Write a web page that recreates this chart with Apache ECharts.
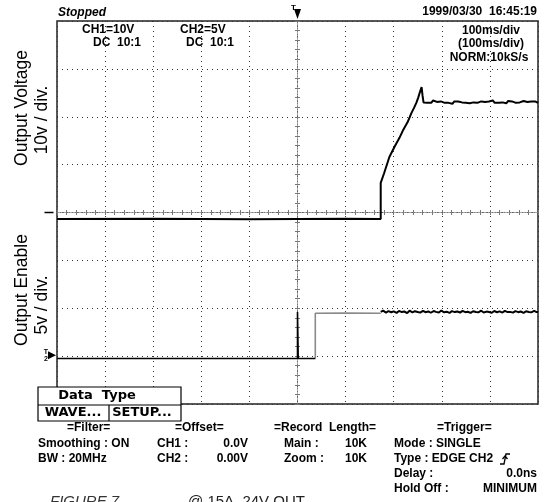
<!DOCTYPE html>
<html><head><meta charset="utf-8">
<script src="https://cdn.jsdelivr.net/npm/echarts@6/dist/echarts.min.js"></script>
<style>html,body{margin:0;padding:0;background:#fff}#c{width:544px;height:502px}</style>
</head><body><div id="c"></div>
<script>
// Time axis: ms relative to trigger (100 ms/div, 10 div)
const timeRange = [-500, 500];
// CH1 output voltage (V), 10 V/div
const ch1Data = [[-500,-1.35],[-300,-1.3],[-100,-1.4],[100,-1.3],[173,-1.35],
 [173,6.2],[180,8.2],[191,11.6],[202,13.8],[212,15.6],[220,17.3],[229,18.9],[237,20.8],[242,21.8],[247,22.9],[251,24.0],[254,25.0],[258,26.2],[260,24.4],[262,23.0],
 [266,23.2],[270,22.9],[274,23.1],[278,22.9],[282,23.4],[286,23.0],[290,23.1],[294,22.8],[298,23.2],[302,23.0],[306,22.9],[310,23.3],[314,22.9],[318,23.1],[322,22.7],[326,23.2],[330,23.0],[334,23.2],[338,22.9],[342,23.0],[346,23.4],[350,22.9],[354,23.1],[358,22.8],[362,23.2],[366,23.0],[370,23.3],[374,22.9],[378,23.0],[382,23.2],[386,22.9],[390,23.1],[394,22.8],[398,23.2],[402,23.0],[406,23.4],[410,22.9],[414,23.0],[418,22.9],[422,23.2],[426,23.0],[430,23.1],[434,22.8],[438,23.3],[442,22.9],[446,23.2],[450,23.0],[454,22.9],[458,23.2],[462,23.0],[466,22.9],[470,23.3],[474,22.9],[478,23.1],[482,23.0],[486,23.2],[490,22.9],[494,23.2],[498,23.0],[500,22.9]];
// CH2 output enable (V), 5 V/div
const ch2Low = [[-500,-0.25],[0,-0.25],[0,4.6],[1.5,4.6],[1.5,-0.25],[37,-0.25]];
const ch2Gray = [[37,-0.25],[37,4.47],[100,4.5],[173,4.47]];
const ch2Times = [173,178,184,189,195,200,206,211,217,222,228,233,239,244,250,255,261,266,272,277,283,288,294,299,305,310,316,321,327,332,338,343,349,354,360,365,371,376,382,387,393,398,404,409,415,420,426,431,437,442,448,453,459,464,470,475,481,486,492,497,500];
const ch2Values = [4.62,4.75,4.55,4.70,4.58,4.68,4.52,4.72,4.60,4.66,4.50,4.74,4.57,4.69,4.61,4.54,4.73,4.59,4.67,4.53,4.71,4.62,4.56,4.76,4.58,4.64,4.51,4.70,4.60,4.66,4.55,4.72,4.59,4.63,4.52,4.69,4.61,4.57,4.74,4.56,4.65,4.60,4.53,4.71,4.58,4.67,4.55,4.73,4.60,4.62,4.54,4.70,4.59,4.66,4.52,4.68,4.61,4.57,4.72,4.60,4.62];
const ch1Range = [-40, 40];
const ch2Range = [-5, 35];

const B = 'bold 12px "Liberation Sans", Arial, sans-serif';
const ch2Noisy = ch2Times.map((t,i)=>[t, ch2Values[i]]);

function txt(text, x, y, opt) {
  opt = opt || {};
  return {type:'text', x:x, y:y, rotation: opt.rot || 0, z:100,
    style:{text:text, font: opt.font || B, fill: opt.fill || '#000',
      align: opt.align || 'left', verticalAlign: opt.va || 'middle',
      textAlign: opt.align || 'left', textVerticalAlign: opt.va || 'middle'}};
}

const chart = echarts.init(document.getElementById('c'), null, {renderer:'canvas'});
const dotted = {color:'#333', width:1, type:[1,4]};
const centerLine = {color:'#777', width:1, type:[1,2]};
function tickAxisX(inside) {
  return {type:'value', min:timeRange[0], max:timeRange[1], interval:100, position:'bottom',
    axisLine:{show:true, onZero:true, onZeroAxisIndex:0, lineStyle:centerLine},
    axisTick:{show:true, inside:inside, length:2.5, lineStyle:{color:'#777'}},
    minorTick:{show:true, splitNumber:5, length:2.5, lineStyle:{color:'#777'}},
    axisLabel:{show:false}, splitLine:{show:false}};
}
function tickAxisY(inside) {
  return {type:'value', min:ch1Range[0], max:ch1Range[1], interval:10, position:'left',
    axisLine:{show:true, onZero:true, onZeroAxisIndex:0, lineStyle:centerLine},
    axisTick:{show:true, inside:inside, length:2.5, lineStyle:{color:'#777'}},
    minorTick:{show:true, splitNumber:5, length:2.5, lineStyle:{color:'#777'}},
    axisLabel:{show:false}, splitLine:{show:false}};
}

const option = {
  animation:false,
  backgroundColor:'#fff',
  grid:{left:57, right:6, top:21, bottom:98, show:true, borderColor:'#222', borderWidth:1.5, backgroundColor:'transparent'},
  xAxis:[
    {type:'value', min:timeRange[0], max:timeRange[1], interval:100, position:'bottom',
     axisLine:{show:false}, axisTick:{show:false}, axisLabel:{show:false},
     splitLine:{show:true, lineStyle:dotted}},
    tickAxisX(true), tickAxisX(false)
  ],
  yAxis:[
    {type:'value', min:ch1Range[0], max:ch1Range[1], interval:10, position:'left',
     axisLine:{show:false}, axisTick:{show:false}, axisLabel:{show:false},
     splitLine:{show:true, lineStyle:dotted}},
    {type:'value', min:ch2Range[0], max:ch2Range[1], interval:5, position:'left',
     axisLine:{show:false}, axisTick:{show:false}, axisLabel:{show:false}, splitLine:{show:false}},
    tickAxisY(true), tickAxisY(false)
  ],
  series:[
    {type:'line', name:'CH1', xAxisIndex:0, yAxisIndex:0, data:ch1Data, showSymbol:false, symbol:'none',
     lineStyle:{color:'#000', width:2}, z:10,
     markPoint:{silent:true, data:[
       {coord:[0, ch1Range[1]], symbol:'triangle', symbolRotate:180, symbolSize:[7,10], symbolOffset:[0,-7],
        itemStyle:{color:'#000'}, label:{show:true, formatter:'T', position:'left', distance:-2, offset:[0,-6], fontSize:8, fontWeight:'bold', color:'#000'}},
       {coord:[timeRange[0], 0], symbol:'rect', symbolSize:[9,1.5], symbolOffset:[-8,0], itemStyle:{color:'#000'}, label:{show:false}}
     ]}},
    {type:'line', name:'CH2a', xAxisIndex:0, yAxisIndex:1, data:ch2Low, showSymbol:false, symbol:'none',
     lineStyle:{color:'#000', width:1.6}, z:10,
     markPoint:{silent:true, data:[
       {coord:[timeRange[0], 0], symbol:'triangle', symbolRotate:-90, symbolSize:[8,8], symbolOffset:[-5,-1],
        itemStyle:{color:'#000'}, label:{show:true, formatter:'T\n2', position:'left', distance:0, offset:[0,0], fontSize:7, lineHeight:7, fontWeight:'bold', color:'#000'}}
     ]}},
    {type:'line', name:'CH2b', xAxisIndex:0, yAxisIndex:1, data:ch2Gray, showSymbol:false, symbol:'none',
     lineStyle:{color:'#8a8a8a', width:1.6}, z:9},
    {type:'line', name:'CH2c', xAxisIndex:0, yAxisIndex:1, data:ch2Noisy, showSymbol:false, symbol:'none',
     lineStyle:{color:'#000', width:2}, z:10}
  ],
  graphic:[
    txt('Stopped', 58, 13, {font:'italic bold 12px "Liberation Sans", Arial, sans-serif'}),
    txt('1999/03/30  16:45:19', 537, 12, {align:'right'}),
    txt('CH1=10V', 82, 30), txt('DC  10:1', 93, 43),
    txt('CH2=5V', 180, 30), txt('DC  10:1', 186, 43),
    txt('100ms/div', 491, 31, {align:'center'}),
    txt('(100ms/div)', 491, 44, {align:'center'}),
    txt('NORM:10kS/s', 489, 58, {align:'center'}),
    txt('Output Voltage', 22, 108, {align:'center', rot:Math.PI/2, font:'17.5px "Liberation Sans", Arial, sans-serif'}),
    txt('10v / div.', 42, 120, {align:'center', rot:Math.PI/2, font:'17.5px "Liberation Sans", Arial, sans-serif'}),
    txt('Output Enable', 22, 290, {align:'center', rot:Math.PI/2, font:'17.5px "Liberation Sans", Arial, sans-serif'}),
    txt('5v / div.', 42, 305, {align:'center', rot:Math.PI/2, font:'17.5px "Liberation Sans", Arial, sans-serif'}),
    {type:'rect', z:90, shape:{x:38, y:387, width:143, height:34}, style:{fill:'#fff', stroke:'#000', lineWidth:1.2}},
    {type:'line', z:91, shape:{x1:38, y1:405, x2:181, y2:405}, style:{stroke:'#000', lineWidth:1.2}},
    {type:'line', z:91, shape:{x1:109, y1:405, x2:109, y2:421}, style:{stroke:'#000', lineWidth:1.2}},
    txt('Data  Type', 97, 396, {align:'center', font:'bold 13px "DejaVu Sans", sans-serif'}),
    txt('WAVE...', 73, 413, {align:'center', font:'bold 13px "DejaVu Sans", sans-serif'}),
    txt('SETUP...', 142, 413, {align:'center', font:'bold 13px "DejaVu Sans", sans-serif'}),
    txt('=Filter=', 67, 428), txt('=Offset=', 175, 428), txt('=Record  Length=', 274, 428), txt('=Trigger=', 437, 428),
    txt('Smoothing : ON', 38, 444), txt('CH1 :', 157, 444), txt('0.0V', 248, 444, {align:'right'}),
    txt('Main :', 284, 444), txt('10K', 367, 444, {align:'right'}), txt('Mode : SINGLE', 394, 444),
    txt('BW : 20MHz', 38, 459), txt('CH2 :', 157, 459), txt('0.00V', 248, 459, {align:'right'}),
    txt('Zoom :', 284, 459), txt('10K', 367, 459, {align:'right'}), txt('Type : EDGE CH2', 394, 459),
    {type:'polyline', z:100, shape:{points:[[500,464],[504,464],[506,454],[510,454]]}, style:{stroke:'#000', lineWidth:1.3, fill:null}},
    {type:'polyline', z:100, shape:{points:[[502.5,459],[505,456],[507.5,459]]}, style:{stroke:'#000', lineWidth:1.3, fill:null}},
    txt('Delay :', 394, 474), txt('0.0ns', 537, 474, {align:'right'}),
    txt('Hold Off :', 394, 489), txt('MINIMUM', 537, 489, {align:'right'}),
    txt('FIGURE 7', 50, 494, {va:'top', fill:'#333', font:'italic 15px "Liberation Sans", Arial, sans-serif'}),
    txt('@ 15A, 24V OUT', 188, 494, {va:'top', fill:'#222', font:'15px "Liberation Sans", Arial, sans-serif'})
  ]
};
chart.setOption(option);
</script></body></html>
